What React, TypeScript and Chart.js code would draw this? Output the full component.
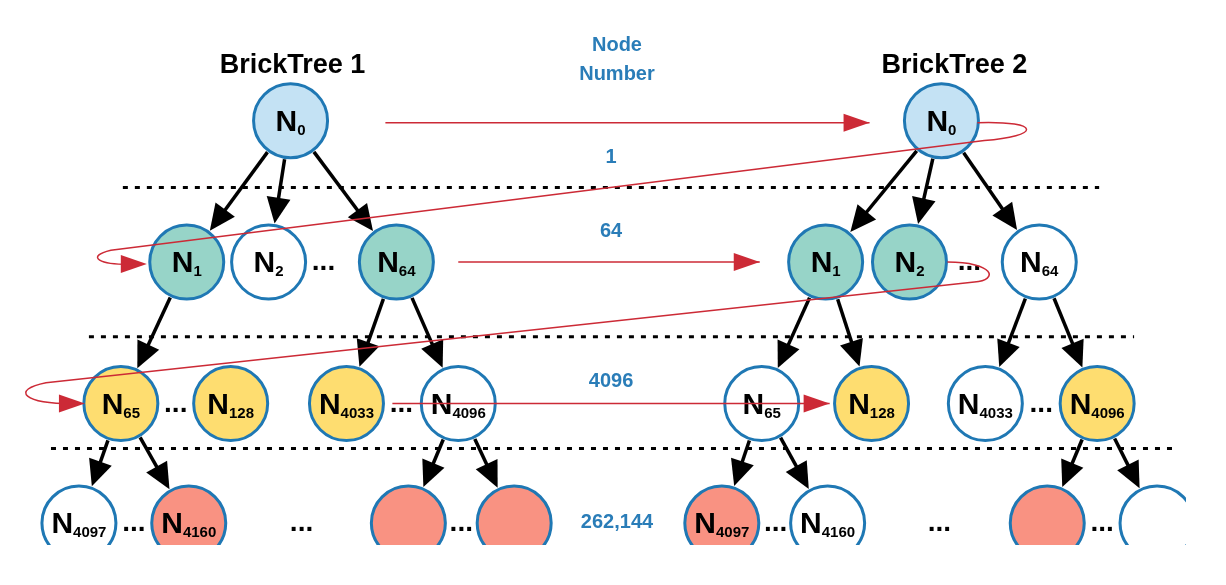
import React, { useEffect, useRef } from 'react';
import { Chart, registerables } from 'chart.js';
Chart.register(...registerables);

// node data (diagram units = pixels of the reference)
const nodeX = [290, 186, 268, 396, 120, 230, 346, 458, 78, 188, 408, 514,
  942, 826, 910, 1040, 762, 872, 986, 1098, 722, 828, 1048, 1158];
const nodeY = [120, 262, 262, 262, 404, 404, 404, 404, 524, 524, 524, 524,
  120, 262, 262, 262, 404, 404, 404, 404, 524, 524, 524, 524];
const nodeSub = ['0', '1', '2', '64', '65', '128', '4033', '4096', '4097', '4160', '', '',
  '0', '1', '2', '64', '65', '128', '4033', '4096', '4097', '4160', '', ''];
const nodeKind = ['b', 't', 'w', 't', 'y', 'y', 'y', 'w', 'w', 's', 's', 's',
  'b', 't', 't', 'w', 'w', 'y', 'w', 'y', 's', 'w', 's', 'w'];
const kindColor: Record<string, string> = { b: '#c4e2f4', t: '#97d4c8', w: '#ffffff', y: '#fedd70', s: '#f99282' };
// parent -> child edges (indexes)
const edges = [[0, 1], [0, 2], [0, 3], [1, 4], [3, 6], [3, 7], [7, 10], [7, 11], [4, 8], [4, 9],
  [12, 13], [12, 14], [12, 15], [13, 16], [13, 17], [15, 18], [15, 19], [16, 20], [16, 21], [19, 22], [19, 23]];
// ellipsis positions
const dotsX = [323, 175, 401, 133, 301, 461, 970, 1042, 776, 940, 1103];
const dotsY = [262, 404, 404, 524, 524, 524, 262, 404, 524, 524, 524];
// level labels
const levelLabels = ['1', '64', '4096', '262,144'];
const levelY = [155, 230, 380, 522];
const levelX = [611, 611, 611, 617];
const sepY = [187, 337, 449];
const sepX0 = [122, 88, 50];
const sepX1 = [1100, 1135, 1175];

const R = 37;
const PAD = 39; // chart.js insets the area by the point radius
const FONT = '"Liberation Sans", Arial, sans-serif';

const App: React.FC = () => {
  const ref = useRef<HTMLCanvasElement>(null);
  useEffect(() => {
    if (!ref.current) return;
    const plugin = {
      id: 'tree',
      beforeDatasetsDraw(chart: any) {
        const { ctx } = chart;
        const sx = (v: number) => chart.scales.x.getPixelForValue(v);
        const sy = (v: number) => chart.scales.y.getPixelForValue(v);
        ctx.save();
        // dotted separators
        ctx.strokeStyle = '#000'; ctx.lineWidth = 3; ctx.setLineDash([5, 7]);
        sepY.forEach((y, i) => { ctx.beginPath(); ctx.moveTo(sx(sepX0[i]), sy(y)); ctx.lineTo(sx(sepX1[i]), sy(y)); ctx.stroke(); });
        ctx.setLineDash([]);
        // black arrows
        edges.forEach(([p, c]) => {
          const x0 = sx(nodeX[p]), y0 = sy(nodeY[p]), x1 = sx(nodeX[c]), y1 = sy(nodeY[c]);
          const d = Math.hypot(x1 - x0, y1 - y0), ux = (x1 - x0) / d, uy = (y1 - y0) / d;
          const ax = x0 + ux * (R + 2), ay = y0 + uy * (R + 2), bx = x1 - ux * (R + 2), by = y1 - uy * (R + 2);
          ctx.strokeStyle = '#000'; ctx.fillStyle = '#000'; ctx.lineWidth = 3.5;
          ctx.beginPath(); ctx.moveTo(ax, ay); ctx.lineTo(bx - ux * 18, by - uy * 18); ctx.stroke();
          ctx.beginPath(); ctx.moveTo(bx, by);
          ctx.lineTo(bx - ux * 26 - uy * 12, by - uy * 26 + ux * 12);
          ctx.lineTo(bx - ux * 26 + uy * 12, by - uy * 26 - ux * 12);
          ctx.closePath(); ctx.fill();
        });
        ctx.restore();
      },
      afterDatasetsDraw(chart: any) {
        const { ctx } = chart;
        const sx = (v: number) => chart.scales.x.getPixelForValue(v);
        const sy = (v: number) => chart.scales.y.getPixelForValue(v);
        ctx.save();
        ctx.textBaseline = 'alphabetic'; ctx.fillStyle = '#000';
        nodeX.forEach((x, i) => {
          if (!nodeSub[i]) return;
          ctx.font = `bold 30px ${FONT}`;
          const w1 = ctx.measureText('N').width;
          ctx.font = `bold 15px ${FONT}`;
          const w2 = ctx.measureText(nodeSub[i]).width;
          const left = sx(x) - (w1 + w2) / 2;
          ctx.font = `bold 30px ${FONT}`; ctx.textAlign = 'left';
          ctx.fillText('N', left, sy(nodeY[i]) + 10);
          ctx.font = `bold 15px ${FONT}`;
          ctx.fillText(nodeSub[i], left + w1, sy(nodeY[i]) + 14);
        });
        ctx.font = `bold 28px ${FONT}`; ctx.textAlign = 'center';
        dotsX.forEach((x, i) => ctx.fillText('...', sx(x), sy(dotsY[i]) + 8));
        ctx.font = `bold 27px ${FONT}`;
        ctx.fillText('BrickTree 1', sx(292), sy(72));
        ctx.fillText('BrickTree 2', sx(955), sy(72));
        ctx.fillStyle = '#2a7db8'; ctx.font = `bold 20px ${FONT}`;
        ctx.fillText('Node', sx(617), sy(50));
        ctx.fillText('Number', sx(617), sy(79));
        levelLabels.forEach((t, i) => ctx.fillText(t, sx(levelX[i]), sy(levelY[i]) + 7));
        // red traversal path
        const red = '#cc2a36';
        ctx.strokeStyle = red; ctx.fillStyle = red; ctx.lineWidth = 1.5;
        const head = (x: number, y: number, ang: number) => {
          ctx.beginPath(); ctx.moveTo(x, y);
          ctx.lineTo(x - 26 * Math.cos(ang) - 9 * Math.sin(ang), y - 26 * Math.sin(ang) + 9 * Math.cos(ang));
          ctx.lineTo(x - 26 * Math.cos(ang) + 9 * Math.sin(ang), y - 26 * Math.sin(ang) - 9 * Math.cos(ang));
          ctx.closePath(); ctx.fill();
        };
        const line = (a: number, b: number, c: number, d: number) => {
          ctx.beginPath(); ctx.moveTo(sx(a), sy(b)); ctx.lineTo(sx(c), sy(d)); ctx.stroke(); head(sx(c), sy(d), Math.atan2(d - b, c - a));
        };
        line(385, 122, 870, 122);
        line(458, 262, 760, 262);
        line(392, 404, 830, 404);
        ctx.beginPath();
        ctx.moveTo(sx(978), sy(122));
        ctx.bezierCurveTo(sx(1045), sy(120), sx(1040), sy(136), sx(985), sy(140));
        ctx.lineTo(sx(110), sy(250));
        ctx.bezierCurveTo(sx(85), sy(256), sx(95), sy(266), sx(140), sy(264));
        ctx.stroke(); head(sx(146), sy(264), 0);
        ctx.beginPath();
        ctx.moveTo(sx(948), sy(262));
        ctx.bezierCurveTo(sx(995), sy(262), sx(1000), sy(280), sx(975), sy(282));
        ctx.lineTo(sx(45), sy(383));
        ctx.bezierCurveTo(sx(10), sy(390), sx(20), sy(405), sx(78), sy(404));
        ctx.stroke(); head(sx(84), sy(404), 0);
        ctx.restore();
      },
    };
    const chart = new Chart(ref.current, {
      type: 'scatter',
      data: {
        datasets: [{
          data: nodeX.map((x, i) => ({ x, y: nodeY[i] })),
          pointRadius: R,
          pointHoverRadius: R,
          pointBackgroundColor: nodeKind.map(k => kindColor[k]),
          pointBorderColor: '#1f78b4',
          pointBorderWidth: 3,
        }],
      },
      options: {
        animation: false,
        responsive: true,
        maintainAspectRatio: false,
        layout: { padding: 0 },
        plugins: { legend: { display: false }, tooltip: { enabled: false } },
        scales: {
          x: { type: 'linear', min: PAD, max: 1226 - PAD, display: false },
          y: { type: 'linear', min: PAD, max: 585 - PAD, reverse: true, display: false },
        },
      },
      plugins: [plugin],
    });
    return () => chart.destroy();
  }, []);
  return (
    <div style={{ position: 'fixed', left: 0, top: 0, width: 1226, height: 585, background: '#fff' }}>
      <canvas ref={ref}></canvas>
    </div>
  );
};

export default App;
